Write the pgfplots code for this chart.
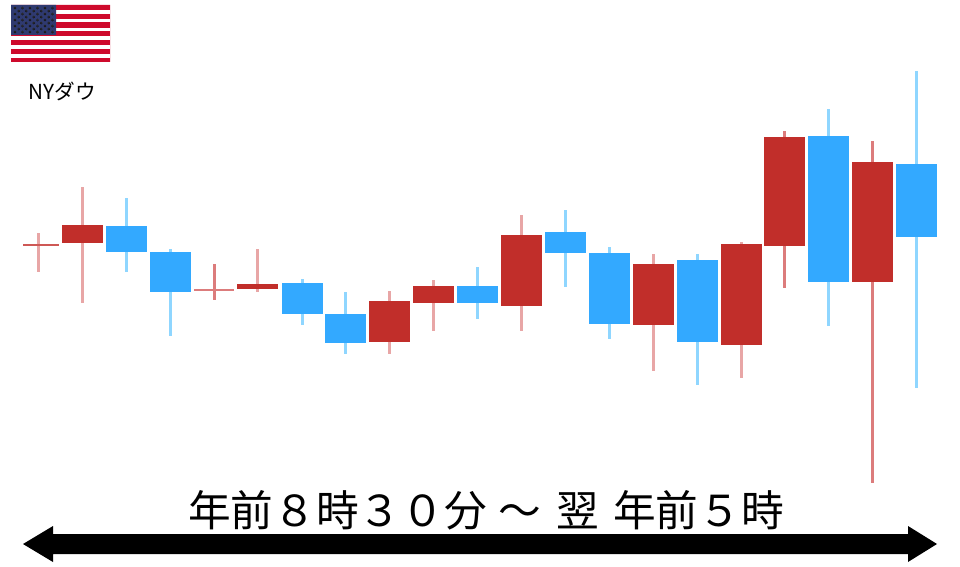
\documentclass[border=0pt]{standalone}
\usepackage{fontspec}
\usepackage{pgfplots}
\pgfplotsset{compat=1.18}
\setmainfont{Noto Sans CJK JP}
\definecolor{cred}{HTML}{C12E2A}
\definecolor{cblue}{HTML}{33A9FF}
\definecolor{wred}{HTML}{E8A6A6}
\definecolor{wred2}{HTML}{DC7C7C}
\definecolor{wblue}{HTML}{8FD6FF}
\definecolor{fred}{HTML}{CE0A2C}
\definecolor{fblue}{HTML}{2F3A70}
\begin{document}
\begin{tikzpicture}[x=1pt,y=1pt]
\begin{axis}[
  scale only axis, width=720pt, height=425.25pt,
  xmin=0, xmax=960, ymin=0, ymax=567, y dir=reverse,
  hide axis, clip=false, unbounded coords=jump,
  every axis plot/.append style={line cap=butt, mark=none}]
\path (axis cs:0,0) rectangle (axis cs:960,567);
% wicks
\addplot[wred, line width=2.25pt] coordinates {
 (38,233)(38,272)(38,nan)
 (82,187)(82,303)(82,nan)
 (257,249)(257,292)(257,nan)
 (389,291)(389,354)(389,nan)
 (433,280)(433,331)(433,nan)
 (521,215)(521,331)(521,nan)
 (653,254)(653,371)(653,nan)
 (741,242)(741,378)(741,nan)};
\addplot[wred2, line width=2.25pt] coordinates {
 (214,264)(214,300)(214,nan)
 (784,131)(784,288)(784,nan)
 (872,141)(872,483)(872,nan)};
\addplot[wblue, line width=2.25pt] coordinates {
 (126,198)(126,272)(126,nan)
 (170,249)(170,336)(170,nan)
 (302,279)(302,325)(302,nan)
 (345,292)(345,354)(345,nan)
 (477,267)(477,319)(477,nan)
 (565,210)(565,287)(565,nan)
 (609,247)(609,339)(609,nan)
 (697,254)(697,385)(697,nan)
 (828,109)(828,326)(828,nan)
 (916,71)(916,388)(916,nan)};
% doji bars
\addplot[cred!80!white, line width=1.5pt] coordinates {(23,244.5)(59,244.5)(59,nan)};
\addplot[wred2, line width=1.1pt] coordinates {(194,290)(234,290)(234,nan)};
% bodies: open to close as thick vertical strokes
\addplot[cred, line width=30.75pt] coordinates {
 (82,225)(82,243)(82,nan)
 (257,284)(257,289)(257,nan)
 (389,301)(389,342)(389,nan)
 (433,286)(433,303)(433,nan)
 (521,235)(521,306)(521,nan)
 (653,264)(653,325)(653,nan)
 (741,244)(741,345)(741,nan)
 (784,137)(784,246)(784,nan)
 (872,162)(872,282)(872,nan)};
\addplot[cblue, line width=30.75pt] coordinates {
 (126,226)(126,252)(126,nan)
 (170,252)(170,292)(170,nan)
 (302,283)(302,314)(302,nan)
 (345,314)(345,343)(345,nan)
 (477,286)(477,303)(477,nan)
 (565,232)(565,253)(565,nan)
 (609,253)(609,324)(609,nan)
 (697,260)(697,342)(697,nan)
 (828,136)(828,282)(828,nan)
 (916,164)(916,237)(916,nan)};
% double arrow
\addplot[black, fill=black, draw=none] coordinates {
 (23,544)(53,526)(53,534)(908,534)(908,526)(937,544)(908,562)(908,554)(53,554)(53,562)(23,544)};
% flag
\addplot[fred, fill=fred, draw=none] coordinates {(11,5)(110,5)(110,62)(11,62)(11,5)};
\addplot[white, line width=2.6pt] coordinates {
 (11,11.8)(110,11.8)(110,nan)
 (11,20.6)(110,20.6)(110,nan)
 (11,29.4)(110,29.4)(110,nan)
 (11,38.2)(110,38.2)(110,nan)
 (11,47)(110,47)(110,nan)
 (11,55.8)(110,55.8)(110,nan)};
\addplot[fblue, fill=fblue, draw=none] coordinates {(11,5)(56,5)(56,35)(11,35)(11,5)};
\addplot[only marks, mark=*, mark size=0.75pt, mark options={draw=none, fill=white, fill opacity=0.9}] coordinates {
 (15,8)(22.5,8)(30,8)(37.5,8)(45,8)(52.5,8)
 (18.75,11)(26.25,11)(33.75,11)(41.25,11)(48.75,11)
 (15,14)(22.5,14)(30,14)(37.5,14)(45,14)(52.5,14)
 (18.75,17)(26.25,17)(33.75,17)(41.25,17)(48.75,17)
 (15,20)(22.5,20)(30,20)(37.5,20)(45,20)(52.5,20)
 (18.75,23)(26.25,23)(33.75,23)(41.25,23)(48.75,23)
 (15,26)(22.5,26)(30,26)(37.5,26)(45,26)(52.5,26)
 (18.75,29)(26.25,29)(33.75,29)(41.25,29)(48.75,29)
 (15,32)(22.5,32)(30,32)(37.5,32)(45,32)(52.5,32)};
% text
\node[font=\fontsize{15.5pt}{15.5pt}\selectfont, inner sep=0pt] at (axis cs:62.5,91) {NYダウ};
\node[font=\fontsize{32pt}{32pt}\selectfont, inner sep=0pt, anchor=center] at (axis cs:486,510) {年前８時３０分\kern9pt～\kern11pt翌\kern11pt年前５時};
\end{axis}
\end{tikzpicture}
\end{document}
